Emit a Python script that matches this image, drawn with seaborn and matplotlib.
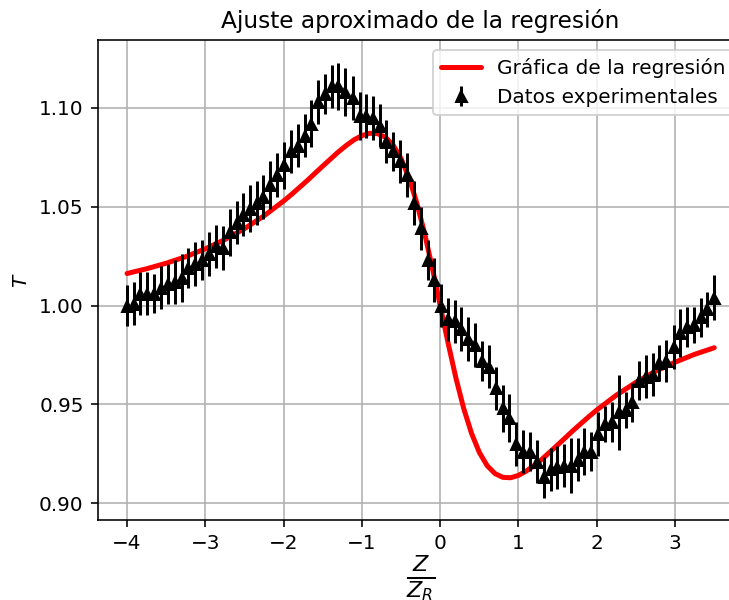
import numpy as np
import matplotlib
matplotlib.use("Agg")
import matplotlib.pyplot as plt
import seaborn as sns

# ── Data ─────────────────────────────────────────────────────────────
# experimental points (Z/Z_R, T, error)
z_exp = [-4.00, -3.91, -3.83, -3.74, -3.65, -3.56, -3.48, -3.39, -3.30, -3.22,
         -3.13, -3.04, -2.95, -2.87, -2.78, -2.69, -2.60, -2.52, -2.43, -2.34,
         -2.26, -2.17, -2.08, -1.99, -1.91, -1.82, -1.73, -1.65, -1.56, -1.47,
         -1.38, -1.30, -1.21, -1.12, -1.03, -0.95, -0.86, -0.77, -0.69, -0.60,
         -0.51, -0.42, -0.34, -0.25, -0.16, -0.08, 0.01, 0.10, 0.19, 0.27,
         0.36, 0.45, 0.53, 0.62, 0.71, 0.80, 0.88, 0.97, 1.06, 1.15,
         1.23, 1.32, 1.41, 1.49, 1.58, 1.67, 1.76, 1.84, 1.93, 2.02,
         2.10, 2.19, 2.28, 2.37, 2.45, 2.54, 2.63, 2.72, 2.80, 2.89,
         2.98, 3.06, 3.15, 3.24, 3.33, 3.41, 3.50]
t_exp = [1.000, 1.001, 1.006, 1.006, 1.006, 1.009, 1.011, 1.012, 1.014, 1.019,
         1.021, 1.023, 1.026, 1.030, 1.029, 1.037, 1.042, 1.046, 1.049, 1.052,
         1.055, 1.061, 1.066, 1.071, 1.078, 1.081, 1.086, 1.092, 1.103, 1.107,
         1.111, 1.111, 1.108, 1.105, 1.096, 1.096, 1.095, 1.091, 1.083, 1.078,
         1.073, 1.066, 1.052, 1.039, 1.023, 1.013, 1.000, 0.993, 0.992, 0.988,
         0.983, 0.980, 0.972, 0.969, 0.958, 0.948, 0.943, 0.930, 0.926, 0.926,
         0.921, 0.913, 0.917, 0.918, 0.919, 0.919, 0.922, 0.926, 0.926, 0.935,
         0.940, 0.941, 0.946, 0.947, 0.951, 0.962, 0.964, 0.965, 0.971, 0.972,
         0.979, 0.986, 0.989, 0.990, 0.994, 0.998, 1.004]
t_err = [0.0105, 0.011, 0.011, 0.011, 0.010, 0.011, 0.010, 0.011, 0.012, 0.010,
         0.011, 0.010, 0.011, 0.011, 0.011, 0.012, 0.011, 0.011, 0.012, 0.011,
         0.011, 0.012, 0.011, 0.012, 0.011, 0.011, 0.011, 0.012, 0.011, 0.010,
         0.011, 0.012, 0.012, 0.011, 0.012, 0.011, 0.011, 0.011, 0.011, 0.010,
         0.011, 0.011, 0.011, 0.011, 0.010, 0.011, 0.011, 0.011, 0.011, 0.011,
         0.011, 0.011, 0.010, 0.011, 0.011, 0.012, 0.012, 0.011, 0.011, 0.010,
         0.011, 0.0105, 0.011, 0.011, 0.011, 0.014, 0.011, 0.012, 0.010, 0.011,
         0.009, 0.010, 0.019, 0.009, 0.010, 0.010, 0.011, 0.011, 0.009, 0.0105,
         0.011, 0.012, 0.010, 0.009, 0.010, 0.009, 0.0115]

# regression curve
z_fit = [-4.0, -3.75, -3.5, -3.25, -3.0, -2.75, -2.5, -2.25, -2.0,
         -1.9, -1.8, -1.7, -1.6, -1.5, -1.4, -1.3, -1.2, -1.1, -1.0,
         -0.9, -0.8, -0.7, -0.6, -0.5, -0.4, -0.3, -0.2, -0.1, 0.0,
         0.1, 0.2, 0.3, 0.4, 0.5, 0.6, 0.7, 0.8, 0.9, 1.0,
         1.1, 1.2, 1.3, 1.4, 1.5, 1.6, 1.7, 1.8, 1.9, 2.0,
         2.25, 2.5, 2.75, 3.0, 3.25, 3.5]
t_fit = [1.0162, 1.0186, 1.0214, 1.0247, 1.0287, 1.0334, 1.0389, 1.0454, 1.0529,
         1.0562, 1.0597, 1.0632, 1.0669, 1.0706, 1.0742, 1.0778, 1.0810, 1.0839, 1.0860,
         1.0872, 1.0870, 1.0852, 1.0811, 1.0744, 1.0648, 1.0521, 1.0366, 1.0189, 1.0000,
         0.9811, 0.9634, 0.9479, 0.9353, 0.9256, 0.9189, 0.9149, 0.9130, 0.9128, 0.9140,
         0.9162, 0.9190, 0.9222, 0.9258, 0.9294, 0.9331, 0.9368, 0.9403, 0.9438, 0.9471,
         0.9546, 0.9611, 0.9667, 0.9713, 0.9753, 0.9786]

# ── Style ────────────────────────────────────────────────────────────
sns.set_style("ticks", {
    "axes.grid": True, "grid.color": "#b0b0b0", "axes.edgecolor": "black",
    "xtick.color": "black", "ytick.color": "black", "text.color": "black",
    "axes.labelcolor": "black",
})
plt.rcParams['font.family'] = ['DejaVu Sans']
plt.rcParams['font.size'] = 10
plt.rcParams['xtick.direction'] = 'out'
plt.rcParams['ytick.direction'] = 'out'

fig = plt.figure(figsize=(729 / 144, 600 / 144), dpi=144)
ax = fig.add_axes([0.134, 0.1333, 0.886, 0.8])

sns.lineplot(x=z_fit, y=t_fit, color='red', lw=2.5, label='Gráfica de la regresión', ax=ax)
ax.errorbar(z_exp, t_exp, yerr=t_err, fmt='^', color='black', ecolor='black',
            elinewidth=1.5, markersize=5.5, label='Datos experimentales')

ax.set_xlim(-4.375, 3.875)
ax.set_ylim(0.8914, 1.1344)
ax.set_xticks([-4, -3, -2, -1, 0, 1, 2, 3])
ax.set_yticks([0.90, 0.95, 1.00, 1.05, 1.10])
ax.set_yticklabels(['0.90', '0.95', '1.00', '1.05', '1.10'])
ax.tick_params(labelsize=10, width=0.8, length=3.5)
for s in ax.spines.values():
    s.set_linewidth(0.8)
    s.set_color('black')
ax.grid(True, color='#b0b0b0', linewidth=0.8)

ax.set_title('Ajuste aproximado de la regresión', fontsize=11.6)
ax.set_xlabel(r'$\frac{Z}{Z_R}$', fontsize=16, labelpad=0)
ax.set_ylabel(r'$T$', fontsize=10)
ax.legend(loc='upper right', fontsize=10, frameon=True, framealpha=0.8,
          edgecolor='#cccccc', fancybox=True)

fig.savefig('out.png', dpi=144)
